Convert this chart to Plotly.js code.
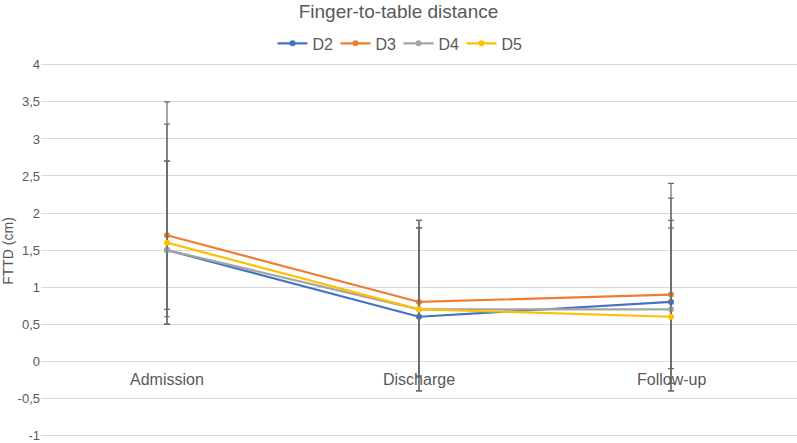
<!DOCTYPE html>
<html>
<head>
<meta charset="utf-8">
<script src="https://cdn.plot.ly/plotly-3.0.1.min.js"></script>
<style>html,body{margin:0;padding:0;background:#fff;}#chart{width:797px;height:443px;}</style>
</head>
<body>
<div id="chart"></div>
<script>
const categories = ["Admission", "Discharge", "Follow-up"];
const seriesNames = ["D2", "D3", "D4", "D5"];
const D2 = [1.5, 0.6, 0.8];
const D3 = [1.7, 0.8, 0.9];
const D4 = [1.5, 0.7, 0.7];
const D5 = [1.6, 0.7, 0.6];
const D2_upper = [2.7, 1.8, 2.2];
const D2_lower = [0.5, -0.4, -0.3];
const D3_upper = [3.5, 1.9, 2.4];
const D3_lower = [0.7, -0.2, -0.1];
const D4_upper = [2.7, 1.9, 1.9];
const D4_lower = [0.5, -0.2, -0.4];
const D5_upper = [3.2, 1.8, 1.8];
const D5_lower = [0.6, -0.4, -0.4];
const yTickVals = [-1, -0.5, 0, 0.5, 1, 1.5, 2, 2.5, 3, 3.5, 4];

const colors = ["#4472C4", "#ED7D31", "#A5A5A5", "#FFC000"];
const means = [D2, D3, D4, D5];
const uppers = [D2_upper, D3_upper, D4_upper, D5_upper];
const lowers = [D2_lower, D3_lower, D4_lower, D5_lower];

const traces = seriesNames.map((name, i) => ({
  type: "scatter",
  mode: "lines+markers",
  name: name,
  x: categories,
  y: means[i],
  line: {color: colors[i], width: 2.2},
  marker: {color: colors[i], size: 6},
  error_y: {
    type: "data",
    symmetric: false,
    array: uppers[i].map((u, k) => u - means[i][k]),
    arrayminus: means[i].map((m, k) => m - lowers[i][k]),
    color: "#6b6b6b",
    thickness: 1.2,
    width: 3
  }
}));

const annotations = categories.map(c => ({
  x: c, y: 0, xref: "x", yref: "y",
  text: c, showarrow: false,
  yanchor: "top", yshift: -8,
  font: {family: "Liberation Sans, Arial, sans-serif", size: 16, color: "#595959"}
}));

const layout = {
  width: 797, height: 443,
  margin: {l: 41, r: 0, t: 63, b: 4},
  paper_bgcolor: "#ffffff",
  plot_bgcolor: "#ffffff",
  separators: ",.",
  font: {family: "Liberation Sans, Arial, sans-serif", color: "#595959"},
  title: {
    text: "Finger-to-table distance",
    x: 0.5, xref: "container", y: 0.974, yanchor: "middle",
    font: {family: "Liberation Sans, Arial, sans-serif", size: 19, color: "#595959"}
  },
  showlegend: true,
  legend: {
    orientation: "h",
    x: 0.5, xref: "container", xanchor: "center",
    y: 0.902, yref: "container", yanchor: "middle",
    font: {size: 16, color: "#595959"},
    itemwidth: 30,
    entrywidth: 18,
    entrywidthmode: "pixels",
    tracegroupgap: 0
  },
  xaxis: {
    type: "category",
    range: [-0.5, 2.5],
    showticklabels: false,
    showgrid: false,
    zeroline: false,
    showline: false,
    ticks: ""
  },
  yaxis: {
    range: [-1.05, 4.025],
    tickvals: yTickVals,
    ticktext: yTickVals.map(v => String(v).replace(".", ",")),
    showgrid: true,
    gridcolor: "#d9d9d9",
    gridwidth: 1,
    zeroline: false,
    showline: false,
    ticks: "",
    ticklabeloverflow: "allow",
    tickfont: {size: 13, color: "#595959"},
    automargin: false,
    title: {text: "FTTD (cm)", standoff: 10, font: {size: 14, color: "#595959"}}
  },
  annotations: annotations
};

Plotly.newPlot("chart", traces, layout, {displayModeBar: false, staticPlot: true});
</script>
</body>
</html>
